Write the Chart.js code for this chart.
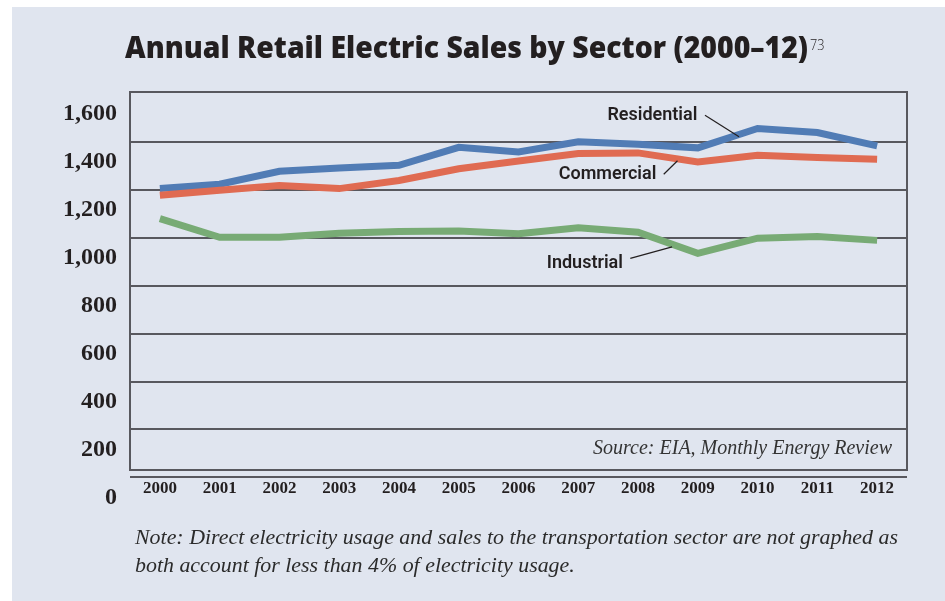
<!DOCTYPE html>
<html>
<head>
<meta charset="utf-8">
<script src="https://cdn.jsdelivr.net/npm/chart.js@4.4.1/dist/chart.umd.min.js"></script>
<style>
body{margin:0;width:945px;height:601px;background:#fff;overflow:hidden;position:relative;}
#panel{position:absolute;left:12px;top:7px;width:933px;height:594px;background:#e0e5ef;}
#chart{position:absolute;left:0;top:0;}
#title{position:absolute;left:113px;top:25px;white-space:nowrap;
  font:800 30px "Open Sans",sans-serif;line-height:30px;color:#231f20;transform-origin:0 0;}
#sup{position:absolute;left:798px;top:27px;font:300 15px "Open Sans",sans-serif;color:#231f20;transform:scaleX(0.85);transform-origin:0 0;}
#note{position:absolute;left:123px;top:516px;white-space:nowrap;
  font:italic 21px "Liberation Serif",serif;line-height:28px;color:#2b2b2b;transform-origin:0 0;}
</style>
</head>
<body>
<div id="panel">
  <canvas id="chart" width="933" height="594"></canvas>
  <div id="title">Annual Retail Electric Sales by Sector (2000–12)</div>
  <div id="sup">73</div>
  <div id="note"><span id="n1">Note: Direct electricity usage and sales to the transportation sector are not graphed as</span><br><span>both account for less than 4% of electricity usage.</span></div>
</div>
<script>
// billion kWh
const years = ['2000','2001','2002','2003','2004','2005','2006','2007','2008','2009','2010','2011','2012'];
const residential = [1205,1223,1277,1291,1302,1377,1358,1400,1390,1375,1456,1439,1383];
const commercial  = [1177,1198,1218,1205,1239,1288,1320,1351,1354,1316,1344,1335,1327];
const industrial  = [1080,1002,1002,1019,1026,1028,1017,1042,1023,935,998,1005,989];
const yTicks = [0,200,400,600,800,1000,1200,1400,1600];

const ink = '#231f20';
const gridCol = '#58585e';

// squeeze the html texts to the printed widths
const title = document.getElementById('title');
title.style.transform = 'scaleX(' + (683 / title.getBoundingClientRect().width) + ')';
const note = document.getElementById('note');
const n1 = document.getElementById('n1');
note.style.transform = 'scaleX(' + (763 / n1.getBoundingClientRect().width) + ')';

// callouts, given in data units (category index, value)
const callouts = [
  {text:'Residential', at:[8.24,1511], line:[[9.12,1511],[9.69,1421]]},
  {text:'Commercial',  at:[7.49,1265], line:[[8.43,1265],[8.66,1321]]},
  {text:'Industrial',  at:[7.11,894],  line:[[7.87,914],[8.57,962]]}
];

const extras = {
  id:'extras',
  beforeDatasetsDraw(chart){
    const a = chart.chartArea, ctx = chart.ctx;
    ctx.save();
    ctx.strokeStyle = gridCol;
    ctx.lineWidth = 2;
    ctx.strokeRect(a.left, a.top, a.right - a.left, a.bottom - a.top);
    ctx.font = 'italic 20px "Liberation Serif", serif';
    ctx.fillStyle = '#333';
    ctx.textAlign = 'right';
    ctx.textBaseline = 'middle';
    ctx.fillText('Source: EIA, Monthly Energy Review', a.right - 15, a.bottom - 21);
    ctx.restore();
  },
  afterDatasetsDraw(chart){
    const x = chart.scales.x, y = chart.scales.y, ctx = chart.ctx;
    ctx.save();
    ctx.font = '600 18px Roboto, sans-serif';
    ctx.fillStyle = ink;
    ctx.textAlign = 'center';
    ctx.textBaseline = 'middle';
    ctx.strokeStyle = ink;
    ctx.lineWidth = 1.2;
    callouts.forEach(c => {
      ctx.fillText(c.text, x.getPixelForValue(c.at[0]), y.getPixelForValue(c.at[1]));
      ctx.beginPath();
      ctx.moveTo(x.getPixelForValue(c.line[0][0]), y.getPixelForValue(c.line[0][1]));
      ctx.lineTo(x.getPixelForValue(c.line[1][0]), y.getPixelForValue(c.line[1][1]));
      ctx.stroke();
    });
    ctx.restore();
  }
};

function series(label, data, color, order){
  return {label, data, borderColor:color, backgroundColor:color, borderWidth:7,
    pointRadius:0, tension:0, borderJoinStyle:'miter', borderCapStyle:'butt', order};
}

new Chart(document.getElementById('chart'), {
  type:'line',
  data:{
    labels: years,
    datasets:[
      series('Residential', residential, '#517cb5', 1),
      series('Commercial', commercial, '#e06b52', 0),
      series('Industrial', industrial, '#78ab75', 2)
    ]
  },
  options:{
    responsive:false,
    devicePixelRatio:1,
    animation:false,
    layout:{padding:{top:85, right:38, left:0, bottom:0}},
    plugins:{legend:{display:false}, tooltip:{enabled:false}},
    scales:{
      x:{
        offset:true,
        grid:{display:false, drawTicks:false},
        border:{display:false},
        ticks:{color:ink, font:{family:'"Liberation Serif", serif', weight:'bold', size:17},
          padding:8, maxRotation:0, autoSkip:false},
        afterFit(s){ s.height = 131; }
      },
      y:{
        min:31, max:1608,
        grid:{drawTicks:false, lineWidth:2,
          color: c => (c.tick && c.tick.value === 1600) ? 'rgba(0,0,0,0)' : gridCol},
        border:{display:false},
        afterBuildTicks(s){ s.ticks = yTicks.map(v => ({value:v})); },
        ticks:{color:ink, font:{family:'"Liberation Serif", serif', weight:'bold', size:24},
          padding:13, labelOffset:20, autoSkip:false,
          callback: v => v.toLocaleString('en-US')},
        afterFit(s){ s.width = 118; }
      }
    }
  },
  plugins:[extras]
});
</script>
</body>
</html>
